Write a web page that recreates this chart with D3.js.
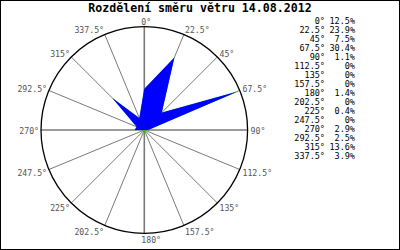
<!DOCTYPE html>
<html>
<head>
<meta charset="utf-8">
<script src="https://cdnjs.cloudflare.com/ajax/libs/d3/7.8.5/d3.min.js"></script>
<style>
  body { margin: 0; background: #fff; }
  text { font-family: "DejaVu Sans Mono", monospace; }
</style>
</head>
<body>
<div class="chart"></div>
<script>
(function() {
  var title = 'Rozdělení směru větru 14.08.2012';
  var directions = [0, 22.5, 45, 67.5, 90, 112.5, 135, 157.5, 180, 202.5, 225, 247.5, 270, 292.5, 315, 337.5];
  var percents = [12.5, 23.9, 7.5, 30.4, 1.1, 0, 0, 0, 1.4, 0, 0.4, 0, 2.9, 2.5, 13.6, 3.9];

  var opts = { width: 400, height: 250, cx: 144.3, cy: 130, r: 103.3 };

  var svg = d3.select('.chart')
              .append('svg')
              .attr('width', opts.width)
              .attr('height', opts.height);

  svg.append('rect')
    .attr('x', 0.5).attr('y', 0.5)
    .attr('width', opts.width - 1).attr('height', opts.height - 1)
    .style('fill', '#fff')
    .style('stroke', '#000');

  svg.append('text')
    .attr('x', 200).attr('y', 12)
    .attr('text-anchor', 'middle')
    .style('font-size', '11.6px')
    .style('font-weight', 'bold')
    .text(title);

  var rad = function(deg) { return deg * Math.PI / 180; };
  var rScale = d3.scaleLinear().domain([0, d3.max(percents)]).range([0, 99.5]);

  var g = svg.append('g')
             .attr('transform', 'translate(' + opts.cx + ',' + opts.cy + ')');

  // spokes
  g.selectAll('.spoke').data(directions)
    .enter().append('line')
      .attr('class', 'spoke')
      .attr('x1', 0).attr('y1', 0)
      .attr('x2', function(d) { return opts.r * Math.sin(rad(d)); })
      .attr('y2', function(d) { return -opts.r * Math.cos(rad(d)); })
      .style('stroke', '#7a7a7a')
      .style('stroke-width', function(d) { return d % 90 === 0 ? 1.6 : 1; });

  g.append('circle')
    .attr('r', opts.r)
    .style('fill', 'none')
    .style('stroke', '#000')
    .style('stroke-width', 1.3);

  // wind polygon
  var radial = d3.lineRadial()
                 .angle(function(d, i) { return rad(directions[i]); })
                 .radius(function(d) { return rScale(d); })
                 .curve(d3.curveLinearClosed);

  g.append('path')
    .attr('d', radial(percents))
    .style('fill', '#0000ff')
    .style('stroke', '#22cc22')
    .style('stroke-width', 0.4);

  g.append('path')
    .attr('d', radial(percents))
    .style('fill', '#0000ff');

  // direction labels
  g.selectAll('.lbl').data(directions)
    .enter().append('text')
      .attr('class', 'lbl')
      .attr('x', function(d) {
        var s = Math.sin(rad(d));
        var x = opts.r * s;
        if (d === 0 || d === 180) return x - 3;
        return s > 0 ? x + 3 * s : x - 2 * Math.abs(s);
      })
      .attr('y', function(d) { return -opts.r * Math.cos(rad(d)) - 6 * Math.cos(rad(d)) + 1; })
      .attr('dy', '0.35em')
      .attr('text-anchor', function(d) { return (d === 0 || d === 180 || d < 180) ? 'start' : 'end'; })
      .style('font-size', '8.2px')
      .style('fill', '#555')
      .text(function(d) { return d + '°'; });

  // legend
  var legend = svg.append('g');
  legend.selectAll('.ldir').data(directions)
    .enter().append('text')
      .attr('x', 325)
      .attr('y', function(d, i) { return 21 + i * 9; })
      .attr('dy', '0.35em')
      .attr('text-anchor', 'end')
      .style('font-size', '8.5px')
      .text(function(d) { return d + '°'; });

  legend.selectAll('.lval').data(percents)
    .enter().append('text')
      .attr('x', 355)
      .attr('y', function(d, i) { return 21 + i * 9; })
      .attr('dy', '0.35em')
      .attr('text-anchor', 'end')
      .style('font-size', '8.5px')
      .text(function(d) { return d + '%'; });
}).call(this);
</script>
</body>
</html>
